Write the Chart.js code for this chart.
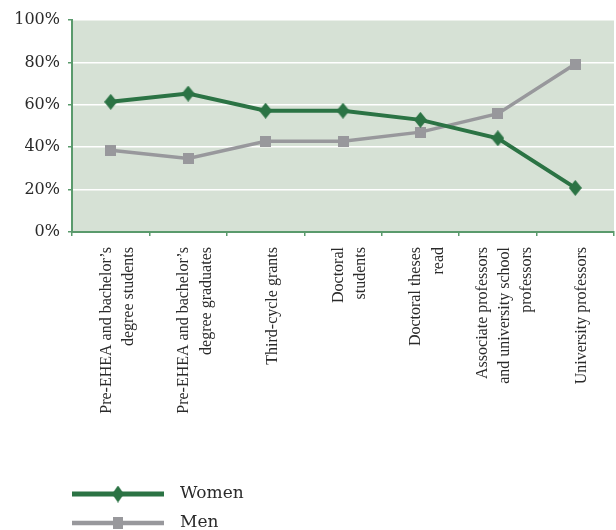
<!DOCTYPE html>
<html>
<head>
<meta charset="utf-8">
<script src="https://cdn.jsdelivr.net/npm/chart.js@4.4.1/dist/chart.umd.min.js"></script>
<style>
  html, body { margin: 0; padding: 0; background: #fff; overflow: hidden; }
  #wrap { width: 622px; height: 530px; }
</style>
</head>
<body>
<div id="wrap"><canvas id="grafico" width="622" height="530"></canvas></div>
<script>
const categorias = [
  ['Pre-EHEA and bachelor’s', 'degree students'],
  ['Pre-EHEA and bachelor’s', 'degree graduates'],
  'Third-cycle grants',
  ['Doctoral', 'students'],
  ['Doctoral theses', 'read'],
  ['Associate professors', 'and university school', 'professors'],
  'University professors'
];
const women = [61.4, 65.3, 57.2, 57.2, 52.9, 44.2, 20.8];
const men = [38.6, 34.7, 42.8, 42.8, 47.1, 55.8, 79.2];
const yTicks = [0, 20, 40, 60, 80, 100];

const verde = '#2b7344';
const gris = '#98989c';
const ejeVerde = '#5a9a6c';

// rombo un poco mas alto que ancho, como en el original
function rombo(w, h, color) {
  const c = document.createElement('canvas');
  c.width = w; c.height = h;
  const g = c.getContext('2d');
  g.fillStyle = color;
  g.beginPath();
  g.moveTo(w / 2, 0);
  g.lineTo(w, h / 2);
  g.lineTo(w / 2, h);
  g.lineTo(0, h / 2);
  g.closePath();
  g.fill();
  return c;
}
function cuadro(w, h, color) {
  const c = document.createElement('canvas');
  c.width = w; c.height = h;
  const g = c.getContext('2d');
  g.fillStyle = color;
  g.fillRect(0, 0, w, h);
  return c;
}

const fondo = {
  id: 'fondo',
  beforeDraw(chart) {
    const a = chart.chartArea;
    const ctx = chart.ctx;
    ctx.save();
    ctx.fillStyle = '#d6e1d5';
    ctx.fillRect(a.left, a.top, a.right - a.left, a.bottom - a.top);
    ctx.restore();
  }
};

const leyenda = {
  id: 'leyenda',
  afterDraw(chart) {
    const ctx = chart.ctx;
    ctx.save();
    chart.data.datasets.forEach((ds, i) => {
      const y = 494 + i * 29;
      ctx.strokeStyle = ds.borderColor;
      ctx.lineWidth = ds.borderWidth + 1;
      ctx.beginPath();
      ctx.moveTo(72, y);
      ctx.lineTo(164, y);
      ctx.stroke();
      ctx.drawImage(ds.legendMark, 118 - ds.legendMark.width / 2, y - ds.legendMark.height / 2);
      ctx.fillStyle = '#2a2a2a';
      ctx.font = '17px "DejaVu Serif"';
      ctx.textBaseline = 'middle';
      ctx.textAlign = 'left';
      ctx.fillText(ds.label, 180, y);
    });
    ctx.restore();
  }
};

// centra las etiquetas de varias lineas sobre su categoria
function centrarLineas(s) {
  if (s._centrado) return;
  s._centrado = true;
  const orig = s._computeLabelItems;
  s._computeLabelItems = function (area) {
    const items = orig.call(this, area);
    items.forEach(it => {
      const n = Array.isArray(it.label) ? it.label.length : 1;
      it.options.translation[0] -= (n - 1) * it.font.lineHeight / 2;
    });
    return items;
  };
}

new Chart(document.getElementById('grafico'), {
  type: 'line',
  data: {
    labels: categorias,
    datasets: [{
      label: 'Women',
      data: women,
      borderColor: verde,
      backgroundColor: verde,
      borderWidth: 4,
      pointStyle: rombo(13, 16, verde),
      legendMark: rombo(12, 17, verde),
      tension: 0
    }, {
      label: 'Men',
      data: men,
      borderColor: gris,
      backgroundColor: gris,
      borderWidth: 3.5,
      pointStyle: cuadro(11, 11, gris),
      legendMark: cuadro(10, 12, gris),
      tension: 0
    }]
  },
  options: {
    responsive: false,
    animation: false,
    layout: { padding: { top: 20, right: 1, left: 0, bottom: 0 } },
    plugins: {
      legend: { display: false },
      tooltip: { enabled: false }
    },
    scales: {
      x: {
        offset: true,
        grid: { offset: true, drawOnChartArea: false, tickLength: 4, tickColor: ejeVerde, lineWidth: 1.5 },
        border: { color: ejeVerde, width: 2 },
        ticks: {
          autoSkip: false,
          minRotation: 90,
          maxRotation: 90,
          padding: 11,
          labelOffset: 7,
          color: '#2a2a2a',
          font: { family: 'Liberation Serif', size: 16, lineHeight: 1.4 }
        },
        afterFit: s => { s.height = 298; },
        afterUpdate: centrarLineas
      },
      y: {
        min: 0,
        max: 100,
        afterBuildTicks: s => { s.ticks = yTicks.map(v => ({ value: v })); },
        grid: { color: '#ffffff', lineWidth: 1.5, tickLength: 4, tickColor: ejeVerde },
        border: { color: ejeVerde, width: 2 },
        ticks: {
          padding: 8,
          color: '#2a2a2a',
          font: { family: 'DejaVu Serif', size: 16 },
          callback: v => v + '%'
        },
        afterFit: s => { s.width = 72; }
      }
    }
  },
  plugins: [fondo, leyenda]
});
</script>
</body>
</html>
